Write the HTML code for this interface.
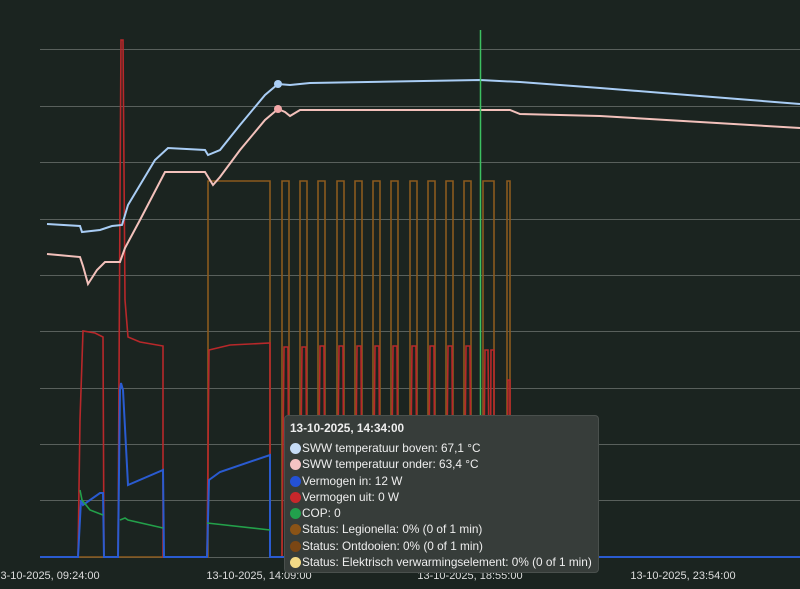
<!DOCTYPE html>
<html><head><style>
body{margin:0;background:#1b2420;}
svg{display:block;font-family:"Liberation Sans",sans-serif;}
.tt{position:absolute;left:284px;top:415px;width:315px;height:158px;background:#373d3a;border:1px solid #4a504d;border-radius:4px;color:#eee;font:11.8px "Liberation Sans",sans-serif;box-sizing:border-box;padding:5px 5px;}
.tt b{display:block;margin-bottom:5px;}
.r{height:16.3px;line-height:16px;white-space:nowrap;}
.d{display:inline-block;width:11px;height:11px;border-radius:50%;vertical-align:-2px;margin-right:1px;}
</style></head><body>
<div style="position:relative;width:800px;height:589px;overflow:hidden;">
<svg width="800" height="589">
<rect width="800" height="589" fill="#1b2420"/>
<g stroke="#59605c" stroke-width="1">
<line x1="40" x2="800" y1="49.5" y2="49.5"/><line x1="40" x2="800" y1="106.5" y2="106.5"/>
<line x1="40" x2="800" y1="162.5" y2="162.5"/><line x1="40" x2="800" y1="219.5" y2="219.5"/>
<line x1="40" x2="800" y1="275.5" y2="275.5"/><line x1="40" x2="800" y1="331.5" y2="331.5"/>
<line x1="40" x2="800" y1="388.5" y2="388.5"/><line x1="40" x2="800" y1="444.5" y2="444.5"/>
<line x1="40" x2="800" y1="500.5" y2="500.5"/><line x1="40" x2="800" y1="557.5" y2="557.5"/>
</g>
<g fill="none" stroke-width="1.6">
<polyline stroke="#8b5a1e" points="40,557 208,557 208,181 270,181 270,557 282,557 282,181 289,181 289,557 300,557 300,181 307,181 307,557 318,557 318,181 325,181 325,557 337,557 337,181 344,181 344,557 355,557 355,181 362,181 362,557 373,557 373,181 380,181 380,557 391,557 391,181 398,181 398,557 410,557 410,181 417,181 417,557 428,557 428,181 435,181 435,557 446,557 446,181 453,181 453,557 464,557 464,181 471,181 471,557 483,557 483,181 494,181 494,557 507,557 507,181 510,181 510,557 800,557"/>
<polyline stroke="#b8282a" points="40,557 78,557 80,420 83,331 95,333 103,337 104,557 118,557 120,200 121,40 123,40 125,300 128,337 140,342 163,346 163,557 207,557 209,350 230,345 270,343 270,557 282,557 284,347 288,347 289,557 300,557 302,347 306,347 307,557 318,557 320,346 324,346 325,557 337,557 339,346 343,346 344,557 355,557 357,346 361,346 362,557 373,557 375,346 379,346 380,557 391,557 393,346 397,346 398,557 410,557 412,346 416,346 417,557 428,557 430,346 434,346 435,557 446,557 448,346 452,346 453,557 464,557 466,346 470,346 471,557 483,557 485,350 488,350 490,557 491,350 494,350 494,557 507,557 508,380 510,380 510,557"/>
<polyline stroke="#2a5bd0" stroke-width="2" points="40,557 78,557 81,500 83,505 100,493 103,493 104,557 118,557 120,390 121,383 123,390 128,485 163,470 164,557 207,557 209,480 220,472 270,455 270,557 800,557"/>
<polyline stroke="#23a04a" points="80,490 82,500 90,510 103,515"/>
<polyline stroke="#23a04a" points="120,520 125,518 128,520 163,528"/>
<polyline stroke="#23a04a" points="207,523 270,530"/>
<polyline stroke="#a9cdf5" stroke-width="2" points="47,224 80,226 82,232 100,230 112,226 122,225 128,205 140,185 155,160 168,148 205,150 208,155 220,150 240,125 265,95 278,84 290,85 310,83 480,80 520,82 600,88 700,96 800,104"/>
<polyline stroke="#f3c1bb" stroke-width="2" points="47,254 80,257 83,266 88,284 97,270 105,262 120,262 125,248 140,220 165,172 205,172 213,185 220,177 240,150 265,120 278,109 285,112 290,116 300,110 510,110 520,114 600,116 700,122 800,128"/>
</g>
<line x1="480.5" x2="480.5" y1="30" y2="557" stroke="#3cc060" stroke-width="1.5"/>
<circle cx="278" cy="84" r="4" fill="#a9cdf5"/><circle cx="278" cy="109" r="4" fill="#f3a8a8"/>
<g fill="#ddd" font-size="11" text-anchor="middle">
<text x="47" y="579">13-10-2025, 09:24:00</text><text x="259" y="579">13-10-2025, 14:09:00</text>
<text x="470" y="579">13-10-2025, 18:55:00</text><text x="683" y="579">13-10-2025, 23:54:00</text>
</g>
</svg>
<div class="tt"><b>13-10-2025, 14:34:00</b>
<div class="r"><span class="d" style="background:#c6dcf6"></span>SWW temperatuur boven: 67,1 °C</div>
<div class="r"><span class="d" style="background:#f5c3c3"></span>SWW temperatuur onder: 63,4 °C</div>
<div class="r"><span class="d" style="background:#2451d6"></span>Vermogen in: 12 W</div>
<div class="r"><span class="d" style="background:#c8272b"></span>Vermogen uit: 0 W</div>
<div class="r"><span class="d" style="background:#22a04c"></span>COP: 0</div>
<div class="r"><span class="d" style="background:#8a5316"></span>Status: Legionella: 0% (0 of 1 min)</div>
<div class="r"><span class="d" style="background:#7a4614"></span>Status: Ontdooien: 0% (0 of 1 min)</div>
<div class="r"><span class="d" style="background:#f3da86"></span>Status: Elektrisch verwarmingselement: 0% (0 of 1 min)</div>
</div>
</div>
</body></html>
